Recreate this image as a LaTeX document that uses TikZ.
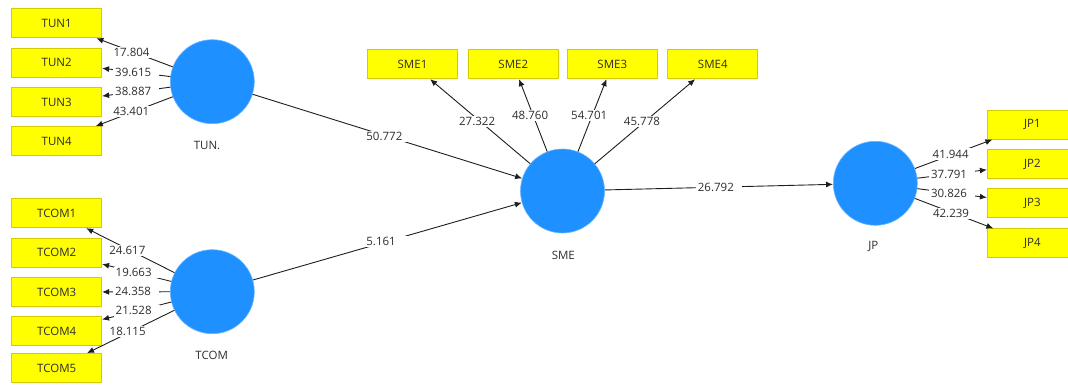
\documentclass[tikz,border=0pt]{standalone}
\usepackage{fontspec}
\setmainfont{Open Sans}
\usetikzlibrary{arrows.meta}
\definecolor{indfill}{RGB}{255,255,0}
\definecolor{indline}{RGB}{214,202,0}
\definecolor{latfill}{RGB}{30,144,255}
\definecolor{txt}{RGB}{45,45,45}
\definecolor{edgecol}{RGB}{30,30,30}

\begin{document}
\begin{tikzpicture}[x=1pt,y=-1pt,
  font=\fontsize{11.5}{13}\selectfont, text=txt,
  ind/.style={draw=indline, fill=indfill, line width=0.8pt,
    minimum width=90pt, minimum height=29pt, inner sep=0pt},
  lat/.style={circle, fill=latfill, draw=latfill!65!white, line width=0.6pt,
    minimum size=84pt, inner sep=0pt},
  latcap/.style={inner sep=0pt},
  edgearrow/.style={draw=edgecol, line width=0.9pt, -{Latex[length=7pt,width=6pt]}},
  val/.style={fill=white, text width=42pt, align=left, inner xsep=2pt,
    inner ysep=1.5pt, pos=0.5},
]
\useasboundingbox (0,0) rectangle (1068,385);
\clip (0,0) rectangle (1068,385);

% latent variables
\node[lat] (tun)  at (212.3,81.7)  {};
\node[lat] (tcom) at (212.3,291.7) {};
\node[lat] (sme)  at (562.5,191)   {};
\node[lat] (jp)   at (875.3,183.3) {};

\node[latcap] (tuncap)  at (207,145)   {TUN.};
\node[latcap] (tcomcap) at (211.7,355) {TCOM};
\node[latcap] (smecap)  at (563.3,255) {SME};
\node[latcap] (jpcap)   at (873.3,246.7) {JP};

% indicators
\node[ind] (tun1) at (56.7,23.3)  {TUN1};
\node[ind] (tun2) at (56.7,62.7)  {TUN2};
\node[ind] (tun3) at (56.7,102)   {TUN3};
\node[ind] (tun4) at (56.7,141)   {TUN4};

\node[ind] (tcom1) at (56.7,213.3) {TCOM1};
\node[ind] (tcom2) at (56.7,252.7) {TCOM2};
\node[ind] (tcom3) at (56.7,292)   {TCOM3};
\node[ind] (tcom4) at (56.7,331)   {TCOM4};
\node[ind] (tcom5) at (56.7,368)   {TCOM5};

\node[ind] (sme1) at (412.5,64.3) {SME1};
\node[ind] (sme2) at (513.3,64.3) {SME2};
\node[ind] (sme3) at (612.3,64.3) {SME3};
\node[ind] (sme4) at (712.8,64.3) {SME4};

\node[ind] (jp1) at (1032.3,124.7) {JP1};
\node[ind] (jp2) at (1032.3,164.2) {JP2};
\node[ind] (jp3) at (1032.3,203.3) {JP3};
\node[ind] (jp4) at (1032.3,243.3) {JP4};

% outer model
\draw[edgearrow] (tun) -- node[val] {17.804} (tun1);
\draw[edgearrow] (tun) -- node[val] {39.615} (tun2);
\draw[edgearrow] (tun) -- node[val] {38.887} (tun3);
\draw[edgearrow] (tun) -- node[val] {43.401} (tun4);

\draw[edgearrow] (tcom) -- node[val] {24.617} (tcom1);
\draw[edgearrow] (tcom) -- node[val] {19.663} (tcom2);
\draw[edgearrow] (tcom) -- node[val] {24.358} (tcom3);
\draw[edgearrow] (tcom) -- node[val] {21.528} (tcom4);
\draw[edgearrow] (tcom) -- node[val] {18.115} (tcom5);

\draw[edgearrow] (sme) -- node[val] {27.322} (sme1);
\draw[edgearrow] (sme) -- node[val] {48.760} (sme2);
\draw[edgearrow] (sme) -- node[val] {54.701} (sme3);
\draw[edgearrow] (sme) -- node[val] {45.778} (sme4);

\draw[edgearrow] (jp) -- node[val] {41.944} (jp1);
\draw[edgearrow] (jp) -- node[val] {37.791} (jp2);
\draw[edgearrow] (jp) -- node[val] {30.826} (jp3);
\draw[edgearrow] (jp) -- node[val] {42.239} (jp4);

% inner model
\draw[edgearrow] (tun)  -- node[val] {50.772} (sme);
\draw[edgearrow] (tcom) -- node[val] {5.161}  (sme);
\draw[edgearrow] (sme)  -- node[val] {26.792} (jp);
\end{tikzpicture}
\end{document}
